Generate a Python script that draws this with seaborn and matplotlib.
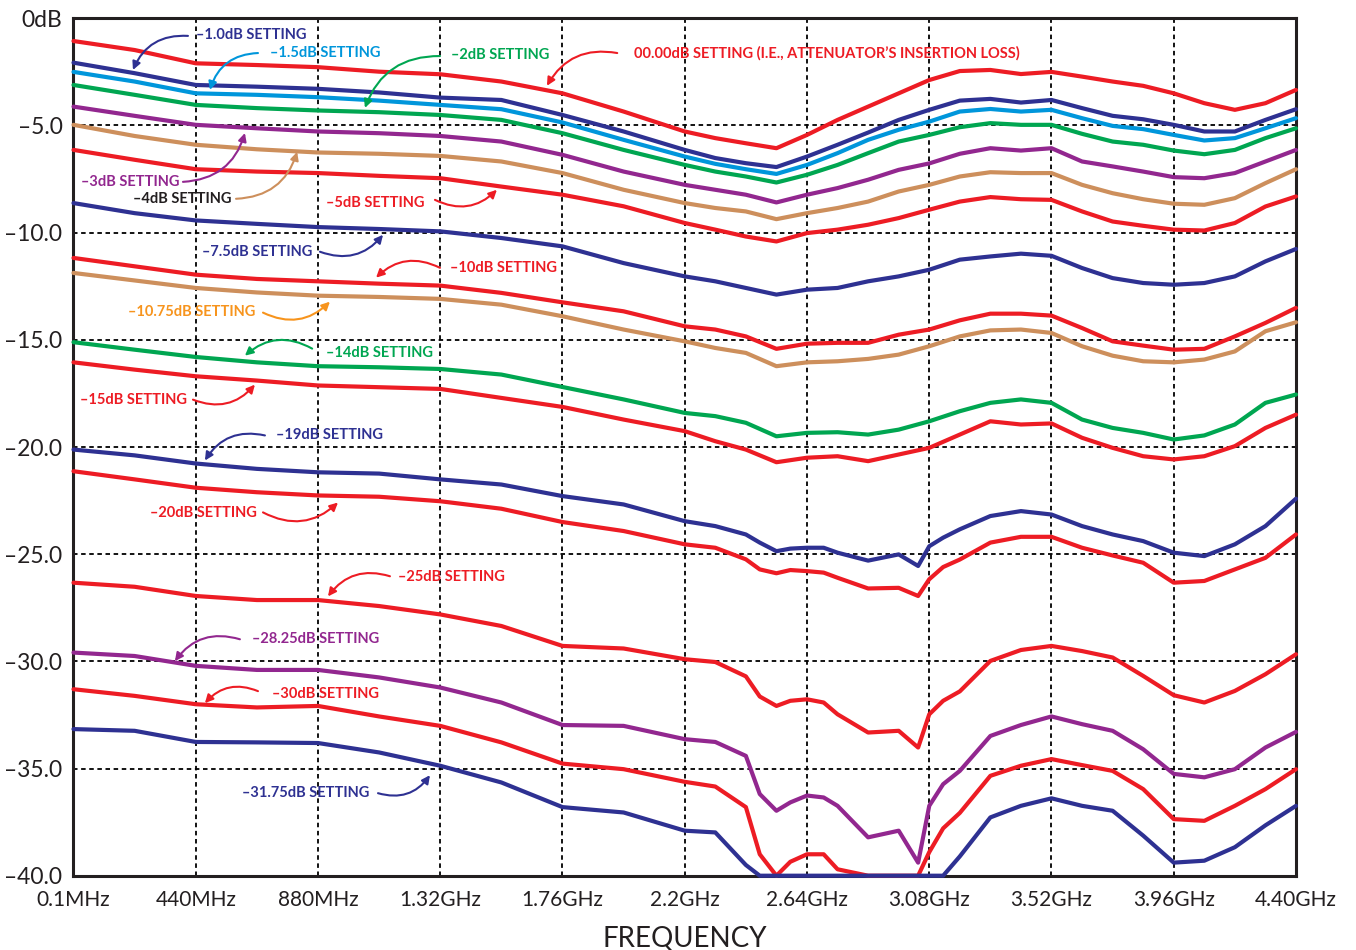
import pandas as pd
import matplotlib
matplotlib.use("Agg")
import matplotlib.pyplot as plt
import seaborn as sns

# Frequency grid (GHz) for the upper settings
FREQ = [0.0, 0.22, 0.44, 0.66, 0.88, 1.10, 1.32, 1.54, 1.76, 1.98, 2.20, 2.31, 2.42, 2.53,
        2.64, 2.75, 2.86, 2.97, 3.08, 3.19, 3.30, 3.41, 3.52, 3.63, 3.74, 3.85, 3.96, 4.07,
        4.18, 4.29, 4.40]

# Finer grid for the lower settings (drop near 2.5GHz and notch near 3.04GHz)
FREQ_DEEP = [0.0, 0.22, 0.44, 0.66, 0.88, 1.10, 1.32, 1.54, 1.76, 1.98, 2.20, 2.31, 2.42,
             2.47, 2.53, 2.58, 2.64, 2.70, 2.75, 2.86, 2.97, 3.04, 3.08, 3.13, 3.19, 3.30,
             3.41, 3.52, 3.63, 3.74, 3.85, 3.96, 4.07, 4.18, 4.29, 4.40]

# Measured attenuation (dB) per setting
LOSS_000 = [-1.06, -1.48, -2.10, -2.18, -2.28, -2.49, -2.61, -2.95, -3.50, -4.35, -5.28, -5.59,
            -5.83, -6.06, -5.44, -4.74, -4.12, -3.50, -2.88, -2.46, -2.41, -2.60, -2.50, -2.72,
            -2.95, -3.15, -3.50, -3.96, -4.27, -3.96, -3.34]
LOSS_010 = [-2.07, -2.56, -3.11, -3.19, -3.29, -3.46, -3.70, -3.81, -4.51, -5.28, -6.14, -6.52,
            -6.76, -6.94, -6.45, -5.90, -5.33, -4.74, -4.27, -3.84, -3.76, -3.93, -3.81, -4.19,
            -4.55, -4.71, -4.97, -5.28, -5.28, -4.74, -4.24]
LOSS_015 = [-2.50, -2.95, -3.50, -3.57, -3.68, -3.84, -4.04, -4.24, -4.86, -5.67, -6.45, -6.79,
            -7.04, -7.26, -6.84, -6.29, -5.67, -5.20, -4.82, -4.35, -4.23, -4.35, -4.27, -4.66,
            -5.02, -5.17, -5.44, -5.70, -5.59, -5.13, -4.66]
LOSS_020 = [-3.11, -3.57, -4.04, -4.19, -4.30, -4.38, -4.51, -4.74, -5.36, -6.14, -6.84, -7.15,
            -7.38, -7.66, -7.30, -6.84, -6.29, -5.75, -5.44, -5.08, -4.89, -4.97, -4.97, -5.39,
            -5.75, -5.90, -6.17, -6.34, -6.14, -5.59, -5.13]
LOSS_030 = [-4.12, -4.55, -4.97, -5.13, -5.28, -5.36, -5.49, -5.75, -6.37, -7.15, -7.77, -8.00,
            -8.23, -8.59, -8.23, -7.92, -7.53, -7.07, -6.77, -6.32, -6.06, -6.17, -6.06, -6.68,
            -6.91, -7.15, -7.41, -7.46, -7.22, -6.68, -6.14]
LOSS_040 = [-4.97, -5.49, -5.90, -6.11, -6.26, -6.32, -6.42, -6.68, -7.22, -8.00, -8.62, -8.85,
            -9.01, -9.37, -9.09, -8.85, -8.55, -8.08, -7.77, -7.38, -7.18, -7.22, -7.22, -7.77,
            -8.16, -8.44, -8.65, -8.70, -8.39, -7.69, -7.04]
LOSS_050 = [-6.14, -6.60, -7.04, -7.15, -7.22, -7.35, -7.46, -7.85, -8.23, -8.77, -9.55, -9.86,
            -10.18, -10.41, -10.02, -9.86, -9.63, -9.32, -8.93, -8.55, -8.34, -8.44, -8.47, -9.01,
            -9.48, -9.68, -9.86, -9.90, -9.55, -8.78, -8.31]
LOSS_075 = [-8.62, -9.09, -9.43, -9.59, -9.74, -9.83, -9.94, -10.25, -10.64, -11.42, -12.04,
            -12.27, -12.58, -12.89, -12.66, -12.58, -12.27, -12.04, -11.73, -11.26, -11.11,
            -10.98, -11.08, -11.65, -12.12, -12.35, -12.43, -12.35, -12.04, -11.34, -10.76]
LOSS_100 = [-11.18, -11.57, -11.96, -12.16, -12.27, -12.38, -12.47, -12.81, -13.25, -13.67,
            -14.37, -14.52, -14.84, -15.42, -15.18, -15.14, -15.14, -14.76, -14.52, -14.09,
            -13.78, -13.78, -13.87, -14.45, -15.07, -15.27, -15.46, -15.42, -14.84, -14.21, -13.51]
LOSS_1075 = [-11.88, -12.23, -12.58, -12.79, -12.94, -13.00, -13.09, -13.36, -13.90, -14.52,
             -15.07, -15.38, -15.61, -16.23, -16.05, -16.00, -15.89, -15.69, -15.30, -14.84,
             -14.56, -14.52, -14.68, -15.30, -15.74, -16.00, -16.05, -15.92, -15.54, -14.60,
             -14.18]
LOSS_140 = [-15.11, -15.46, -15.80, -16.05, -16.23, -16.28, -16.36, -16.62, -17.20, -17.78,
            -18.41, -18.56, -18.87, -19.50, -19.34, -19.31, -19.42, -19.19, -18.80, -18.33,
            -17.94, -17.78, -17.94, -18.72, -19.11, -19.34, -19.65, -19.46, -18.95, -17.94, -17.55]
LOSS_150 = [-16.05, -16.39, -16.70, -16.90, -17.13, -17.21, -17.29, -17.71, -18.13, -18.72,
            -19.26, -19.73, -20.12, -20.71, -20.50, -20.43, -20.66, -20.35, -20.04, -19.42,
            -18.80, -18.95, -18.90, -19.57, -20.04, -20.43, -20.58, -20.43, -19.96, -19.11, -18.49]

LOSS_190 = [-20.12, -20.39, -20.77, -21.02, -21.18, -21.24, -21.51, -21.75, -22.29, -22.68,
            -23.46, -23.69, -24.08, -24.46, -24.86, -24.74, -24.70, -24.70, -24.93, -25.30,
            -25.01, -25.55, -24.63, -24.23, -23.84, -23.22, -22.99, -23.15, -23.69, -24.08,
            -24.39, -24.93, -25.09, -24.54, -23.69, -22.41]
LOSS_200 = [-21.13, -21.51, -21.90, -22.11, -22.26, -22.32, -22.53, -22.88, -23.50, -23.92,
            -24.54, -24.70, -25.24, -25.71, -25.89, -25.74, -25.79, -25.86, -26.10, -26.60,
            -26.57, -26.95, -26.17, -25.60, -25.25, -24.46, -24.19, -24.19, -24.70, -25.06,
            -25.40, -26.33, -26.25, -25.71, -25.17, -24.08]
LOSS_250 = [-26.33, -26.52, -26.95, -27.14, -27.14, -27.42, -27.81, -28.35, -29.28, -29.40,
            -29.90, -30.03, -30.70, -31.64, -32.08, -31.84, -31.77, -31.92, -32.47, -33.32,
            -33.24, -34.02, -32.47, -31.84, -31.40, -29.98, -29.47, -29.28, -29.52, -29.82,
            -30.68, -31.58, -31.92, -31.38, -30.60, -29.67]
LOSS_2825 = [-29.59, -29.75, -30.21, -30.40, -30.40, -30.75, -31.22, -31.92, -32.97, -33.01,
             -33.63, -33.76, -34.41, -36.19, -36.97, -36.58, -36.26, -36.35, -36.74, -38.21,
             -37.90, -39.39, -36.74, -35.73, -35.11, -33.48, -32.97, -32.57, -32.93, -33.24,
             -34.10, -35.25, -35.41, -35.03, -34.02, -33.29]
LOSS_300 = [-31.30, -31.61, -32.00, -32.15, -32.08, -32.57, -33.01, -33.78, -34.77, -35.03,
            -35.62, -35.84, -36.80, -39.00, -40.00, -39.35, -39.00, -39.00, -39.70, -40.00,
            -40.00, -40.00, -38.90, -37.79, -37.07, -35.34, -34.87, -34.56, -34.84, -35.11,
            -35.96, -37.36, -37.44, -36.74, -35.96, -35.03]
LOSS_3175 = [-33.16, -33.24, -33.76, -33.78, -33.81, -34.25, -34.87, -35.65, -36.80, -37.05,
             -37.90, -37.98, -39.50, -40.00, -40.00, -40.00, -40.00, -40.00, -40.00, -40.00,
             -40.00, -40.00, -40.00, -40.00, -39.10, -37.28, -36.74, -36.39, -36.74, -36.97,
             -38.13, -39.39, -39.30, -38.67, -37.65, -36.74]

XTICKS = [0.0, 0.44, 0.88, 1.32, 1.76, 2.20, 2.64, 3.08, 3.52, 3.96, 4.40]
XTICK_LABELS = ["0.1MHz", "440MHz", "880MHz", "1.32GHz", "1.76GHz", "2.2GHz", "2.64GHz",
                "3.08GHz", "3.52GHz", "3.96GHz", "4.40GHz"]
YTICKS = [0, -5, -10, -15, -20, -25, -30, -35, -40]
YTICK_LABELS = ["0dB", "–5.0", "–10.0", "–15.0", "–20.0", "–25.0", "–30.0", "–35.0", "–40.0"]

RED = "#ed1c24"
NAVY = "#2e3192"
LBLUE = "#0096db"
GREEN = "#00a651"
PURPLE = "#92278f"
TAN = "#cd8f5c"
ORANGE = "#f7941d"
DARK = "#231f20"

curves = [
    ("00.00dB", FREQ, LOSS_000, RED),
    ("-1.0dB", FREQ, LOSS_010, NAVY),
    ("-1.5dB", FREQ, LOSS_015, LBLUE),
    ("-2dB", FREQ, LOSS_020, GREEN),
    ("-3dB", FREQ, LOSS_030, PURPLE),
    ("-4dB", FREQ, LOSS_040, TAN),
    ("-5dB", FREQ, LOSS_050, RED),
    ("-7.5dB", FREQ, LOSS_075, NAVY),
    ("-10dB", FREQ, LOSS_100, RED),
    ("-10.75dB", FREQ, LOSS_1075, TAN),
    ("-14dB", FREQ, LOSS_140, GREEN),
    ("-15dB", FREQ, LOSS_150, RED),
    ("-19dB", FREQ_DEEP, LOSS_190, NAVY),
    ("-20dB", FREQ_DEEP, LOSS_200, RED),
    ("-25dB", FREQ_DEEP, LOSS_250, RED),
    ("-28.25dB", FREQ_DEEP, LOSS_2825, PURPLE),
    ("-30dB", FREQ_DEEP, LOSS_300, RED),
    ("-31.75dB", FREQ_DEEP, LOSS_3175, NAVY),
]

frames = [pd.DataFrame({"freq": f, "loss": l, "setting": name}) for name, f, l, _ in curves]
df = pd.concat(frames, ignore_index=True)
palette = {name: c for name, _, _, c in curves}

# annotation labels: text, text pos, alignment, text colour, arrow tail, arrow head, arrow colour
labels = [
    ("–1.0dB SETTING", (0.441, -0.80), "left", NAVY, (0.412, -0.82), (0.214, -2.41), NAVY),
    ("–1.5dB SETTING", (0.707, -1.62), "left", LBLUE, (0.664, -1.62), (0.491, -3.34), LBLUE),
    ("–2dB SETTING", (1.359, -1.71), "left", GREEN, (1.319, -1.76), (1.049, -4.18), GREEN),
    ("00.00dB SETTING (I.E., ATTENUATOR’S INSERTION LOSS)", (2.018, -1.62), "left", RED,
     (1.957, -1.62), (1.704, -3.15), RED),
    ("–3dB SETTING", (0.383, -7.63), "right", PURPLE, (0.394, -7.63), (0.617, -5.35), PURPLE),
    ("–4dB SETTING", (0.567, -8.42), "right", DARK, (0.585, -8.42), (0.805, -6.23), TAN),
    ("–5dB SETTING", (1.265, -8.61), "right", RED, (1.301, -8.47), (1.524, -8.00), RED),
    ("–7.5dB SETTING", (0.858, -10.89), "right", NAVY, (0.887, -10.89), (1.114, -10.10), NAVY),
    ("–10dB SETTING", (1.355, -11.64), "left", RED, (1.319, -11.64), (1.089, -12.10), RED),
    ("–10.75dB SETTING", (0.653, -13.69), "right", ORANGE, (0.682, -13.73), (0.923, -13.22), ORANGE),
    ("–14dB SETTING", (0.909, -15.60), "left", GREEN, (0.859, -15.41), (0.617, -15.74), GREEN),
    ("–15dB SETTING", (0.409, -17.79), "right", RED, (0.430, -17.79), (0.653, -17.09), RED),
    ("–19dB SETTING", (0.729, -19.46), "left", NAVY, (0.689, -19.46), (0.473, -20.63), NAVY),
    ("–20dB SETTING", (0.661, -23.10), "right", RED, (0.682, -23.05), (0.952, -22.59), RED),
    ("–25dB SETTING", (1.168, -26.08), "left", RED, (1.139, -26.03), (0.916, -26.97), RED),
    ("–28.25dB SETTING", (0.643, -28.97), "left", PURPLE, (0.599, -28.97), (0.365, -29.99), PURPLE),
    ("–30dB SETTING", (0.715, -31.53), "left", RED, (0.664, -31.39), (0.473, -31.95), RED),
    ("–31.75dB SETTING", (1.064, -36.15), "right", NAVY, (1.096, -36.15), (1.283, -35.31), NAVY),
]

sns.set_theme(style="white")
plt.rcParams["font.family"] = ["Lato", "DejaVu Sans"]

fig = plt.figure(figsize=(13.56, 9.5), dpi=100)
ax = fig.add_axes([0.0542, 0.0782, 0.90155, 0.90253])

sns.lineplot(data=df, x="freq", y="loss", hue="setting", palette=palette,
             estimator=None, sort=False, lw=3, legend=False, ax=ax,
             clip_on=False, zorder=3, solid_joinstyle="round")

ax.set_xlim(0, 4.4)
ax.set_ylim(-40, 0)
ax.set_xticks(XTICKS)
ax.set_xticklabels(XTICK_LABELS)
ax.set_yticks(YTICKS)
ax.set_yticklabels(YTICK_LABELS)
ax.tick_params(axis="x", length=0, pad=10, labelsize=15, labelcolor=DARK)
ax.tick_params(axis="y", length=0, pad=8, labelsize=16.5, labelcolor=DARK)
ax.grid(True, color="black", linestyle=(0, (2.5, 2)), linewidth=1.3)
ax.set_xlabel("FREQUENCY", fontsize=20, color=DARK, labelpad=12)
ax.set_ylabel("")
for side in ["left", "bottom", "top", "right"]:
    ax.spines[side].set_color(DARK)
    ax.spines[side].set_linewidth(2.2)

for text, pos, ha, tcol, tail, head, acol in labels:
    ax.text(pos[0], pos[1], text, ha=ha, va="center", fontsize=10.5,
            fontweight="bold", color=tcol, zorder=5)
    ax.annotate("", xy=head, xytext=tail,
                arrowprops=dict(arrowstyle="-|>", color=acol, lw=1.5,
                                mutation_scale=12, shrinkA=0, shrinkB=0,
                                connectionstyle="arc3,rad=0.35"),
                zorder=5)

fig.savefig("out.png", dpi=100)
